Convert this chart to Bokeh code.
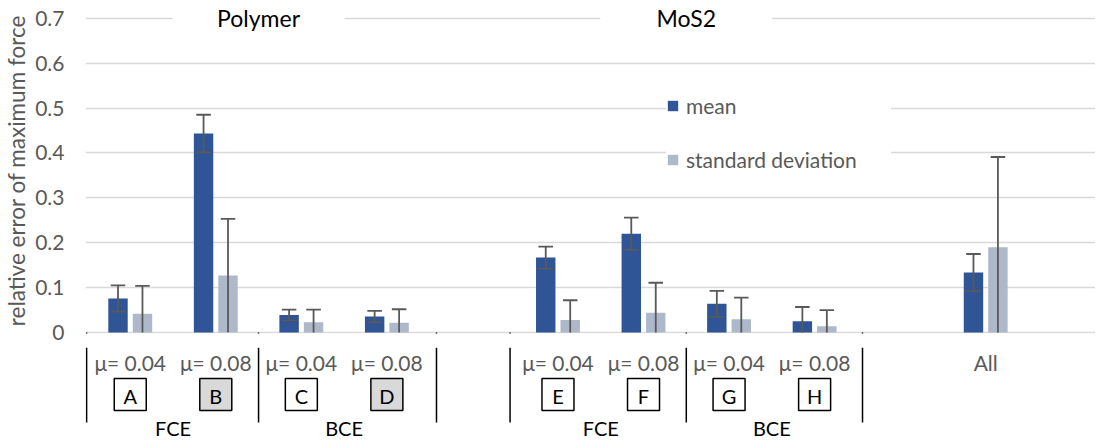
from bokeh.plotting import figure
from bokeh.models import (Range1d, FixedTicker, Legend, LegendItem, NumeralTickFormatter,
                          Label, Arrow)
from bokeh.layouts import column
from bokeh.embed import file_html
from bokeh.resources import INLINE
from bokeh.core.properties import value

# ---------------- data ----------------
slots = ["A", "B", "C", "D", "", "E", "F", "G", "H", " ", "All"]
cases = ["A", "B", "C", "D", "E", "F", "G", "H", "All"]
friction = ["μ= 0.04", "μ= 0.08", "μ= 0.04", "μ= 0.08",
            "μ= 0.04", "μ= 0.08", "μ= 0.04", "μ= 0.08", "All"]
method = ["FCE", "FCE", "BCE", "BCE", "FCE", "FCE", "BCE", "BCE", ""]
material = ["Polymer"] * 4 + ["MoS2"] * 4 + [""]
shaded = ["B", "D"]

mean_vals = [0.076, 0.443, 0.039, 0.036, 0.167, 0.220, 0.064, 0.025, 0.134]
mean_err = [0.029, 0.042, 0.012, 0.0125, 0.0245, 0.036, 0.029, 0.032, 0.041]
std_vals = [0.042, 0.127, 0.023, 0.022, 0.028, 0.044, 0.030, 0.014, 0.190]
std_err = [0.062, 0.126, 0.028, 0.030, 0.044, 0.067, 0.048, 0.036, 0.201]

y_ticks = [0, 0.1, 0.2, 0.3, 0.4, 0.5, 0.6, 0.7]

# ---------------- styling ----------------
FONT_NAME = "Lato"
FONT = value(FONT_NAME)
DARK = "#2F5597"
LIGHT = "#ADB9CA"
GREY_TXT = "#595959"
ERR = "#595959"
GRID = "#D9D9D9"

W = 1095
LEFT = 82
BAR_W = 0.227
OFF = 0.143
CAP = 0.085
TOP_PAD = 7
BOT_PAD = 14

centers = [slots.index(c) + 0.5 for c in cases]
xm = [c - OFF for c in centers]
xs = [c + OFF for c in centers]

x_range = Range1d(-0.023, -0.023 + (W - LEFT) / 85.8)

p = figure(width=W, height=326 + TOP_PAD + BOT_PAD, x_range=x_range,
           y_range=Range1d(-0.002, 0.7238),
           output_backend="svg", toolbar_location=None, x_axis_location=None,
           min_border_left=LEFT, min_border_right=0,
           min_border_top=TOP_PAD, min_border_bottom=BOT_PAD)
p.outline_line_color = None
p.xgrid.visible = False
p.ygrid.grid_line_color = GRID
p.ygrid.grid_line_width = 1.3
p.ygrid.ticker = FixedTicker(ticks=y_ticks)
p.yaxis.ticker = FixedTicker(ticks=y_ticks)
p.yaxis.formatter = NumeralTickFormatter(format="0.[0]")
p.yaxis.axis_line_color = None
p.yaxis.major_tick_line_color = None
p.yaxis.minor_tick_line_color = None
p.yaxis.major_tick_out = 0
p.yaxis.major_label_standoff = 21
p.yaxis.major_label_text_font = FONT_NAME
p.yaxis.major_label_text_font_size = "21px"
p.yaxis.major_label_text_color = GREY_TXT
p.yaxis.axis_label = "relative error of maximum force"
p.yaxis.axis_label_text_font = FONT_NAME
p.yaxis.axis_label_text_font_size = "22.5px"
p.yaxis.axis_label_text_font_style = "normal"
p.yaxis.axis_label_text_color = GREY_TXT
p.yaxis.axis_label_standoff = 2

r_mean = p.vbar(x=xm, top=mean_vals, bottom=0, width=BAR_W, fill_color=DARK, line_color=None)
r_std = p.vbar(x=xs, top=std_vals, bottom=0, width=BAR_W, fill_color=LIGHT, line_color=None)

for xv, vals, errs in ((xm, mean_vals, mean_err), (xs, std_vals, std_err)):
    hi = [v + e for v, e in zip(vals, errs)]
    lo = [max(0.0, v - e) for v, e in zip(vals, errs)]
    p.segment(x0=xv, y0=lo, x1=xv, y1=hi, line_color=ERR, line_width=1.8)
    p.segment(x0=[x - CAP for x in xv], y0=hi, x1=[x + CAP for x in xv], y1=hi,
              line_color=ERR, line_width=1.8)
    lo_x = [x for x, l in zip(xv, lo) if l > 0.006]
    lo_y = [l for l in lo if l > 0.006]
    p.segment(x0=[x - CAP for x in lo_x], y0=lo_y, x1=[x + CAP for x in lo_x], y1=lo_y,
              line_color=ERR, line_width=1.8)

# material headings (text boxes over the top gridline)
mat_names, mat_centers = [], []
for m in dict.fromkeys(material):
    if not m:
        continue
    idx = [slots.index(c) for c, mm in zip(cases, material) if mm == m]
    mat_names.append(m)
    mat_centers.append((min(idx) + max(idx) + 1) / 2)
p.rect(x=mat_centers, y=0.7, width=172, height=20, width_units="screen", height_units="screen",
       fill_color="white", line_color=None)
for name, cx in zip(mat_names, mat_centers):
    p.add_layout(Label(x=cx, y=0.7, text=name, text_align="center", text_baseline="middle",
                       text_font=FONT_NAME, text_font_size="23px", text_color="black"))

legend = Legend(items=[LegendItem(label="mean", renderers=[r_mean]),
                       LegendItem(label="standard deviation", renderers=[r_std])],
                location=(581, 161), orientation="vertical", margin=0, padding=23,
                spacing=29, glyph_width=13, glyph_height=13, label_height=20,
                label_width=205, label_standoff=7,
                background_fill_color="white", background_fill_alpha=1.0,
                border_line_color=None,
                label_text_font=FONT_NAME, label_text_font_size="21px",
                label_text_color=GREY_TXT)
p.add_layout(legend)

# group separators (upper part, just below the baseline)
sep_x = [-0.01, 2, 4.08, 4.94, 7, 9.06]
for sx in sep_x:
    p.add_layout(Arrow(end=None, x_start=sx, y_start=0, x_end=sx, y_end=-BOT_PAD / 449,
                       line_color="black", line_width=1.5))

# ---------------- category label rows ----------------
H2 = 93
q = figure(width=W, height=H2, x_range=x_range, y_range=Range1d(H2, 0),
           output_backend="svg", toolbar_location=None,
           x_axis_location=None, y_axis_location=None,
           min_border_left=LEFT, min_border_right=0, min_border_top=0, min_border_bottom=0)
q.outline_line_color = None
q.grid.visible = False

q.text(x=centers, y=15, text=friction, text_align="center", text_baseline="middle",
       text_font=FONT, text_font_size="21px", text_color=GREY_TXT)

box_cases = [c for c in cases if len(c) == 1]
box_x = [slots.index(c) + 0.5 for c in box_cases]
box_fill = ["#D9D9D9" if c in shaded else "white" for c in box_cases]
q.rect(x=box_x, y=47, width=32, height=32, width_units="screen", height_units="screen",
       fill_color=box_fill, line_color="black", line_width=1.5)
q.text(x=box_x, y=48, text=box_cases, text_align="center", text_baseline="middle",
       text_font=FONT, text_font_size="20px", text_color="black")

meth_names, meth_centers = [], []
run = []
for i, c in enumerate(cases):
    run.append(i)
    nxt = method[i + 1] if i + 1 < len(cases) else None
    nxt_mat = material[i + 1] if i + 1 < len(cases) else None
    if nxt != method[i] or nxt_mat != material[i]:
        if method[i]:
            idx = [slots.index(cases[j]) for j in run]
            meth_names.append(method[i])
            meth_centers.append((min(idx) + max(idx) + 1) / 2)
        run = []
q.text(x=meth_centers, y=80, text=meth_names, text_align="center", text_baseline="middle",
       text_font=FONT, text_font_size="20px", text_color="black")

q.segment(x0=sep_x, y0=[0] * len(sep_x), x1=sep_x, y1=[75] * len(sep_x),
          line_color="black", line_width=1.5)

layout = column(p, q, spacing=0)
open("out.html", "w").write(file_html(layout, INLINE))
